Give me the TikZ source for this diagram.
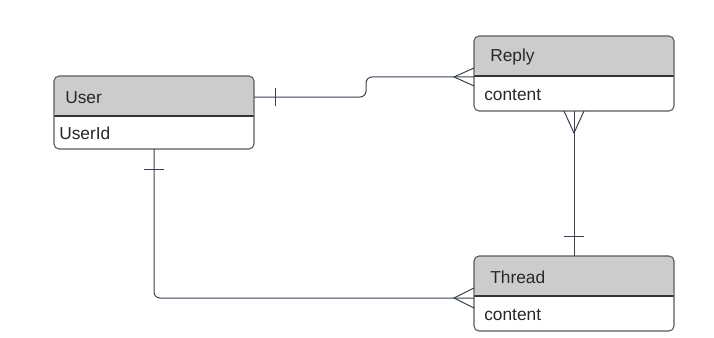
\documentclass[tikz,border=0pt]{standalone}
\usepackage{fontspec}
\setmainfont{Liberation Sans}
\usetikzlibrary{positioning,calc}
\definecolor{boxline}{RGB}{90,90,90}
\definecolor{hdrfill}{RGB}{204,204,204}
\definecolor{conn}{RGB}{58,65,78}
\definecolor{txt}{RGB}{40,40,40}

\tikzset{
  entity/.style={draw=boxline,line width=0.8pt,fill=white,rounded corners=3.75pt,
    minimum width=150pt,minimum height=#1,inner sep=0pt,outer sep=0pt,
    path picture={
      \fill[hdrfill] (path picture bounding box.north west) rectangle
        ($(path picture bounding box.north east)+(0,-30pt)$);
      \draw[black!80,line width=0.8pt] ($(path picture bounding box.north west)+(0,-30pt)$) --
        ($(path picture bounding box.north east)+(0,-30pt)$);}},
  title/.style={anchor=west,font=\fontsize{13}{15}\selectfont,text=txt,inner sep=0pt},
  attr/.style={anchor=west,font=\fontsize{13}{15}\selectfont,text=txt,inner sep=0pt},
  rel/.style={conn,line width=0.75pt,rounded corners=4.5pt},
  endmark/.style={conn,line width=0.75pt}
}

\begin{document}
\begin{tikzpicture}[x=0.75pt,y=-0.75pt]
\useasboundingbox (0,0) rectangle (714,337);

% entities
\node[entity=54.75pt] (user) at (154,112.5) {};
\node[entity=56.25pt] (reply) at (574,73.5) {};
\node[entity=56.25pt] (thread) at (574,293.5) {};

% labels
\node[title] (usert) at ([xshift=8.25pt,yshift=-16pt]user.north west) {User};
\node[attr] (usera) at ([xshift=3.75pt,yshift=-42.8pt]user.north west) {UserId};
\node[title] (replyt) at ([xshift=12pt,yshift=-16pt]reply.north west) {Reply};
\node[attr] (replya) at ([xshift=7.5pt,yshift=-44pt]reply.north west) {content};
\node[title] (threadt) at ([xshift=12pt,yshift=-16pt]thread.north west) {Thread};
\node[attr] (threada) at ([xshift=7.5pt,yshift=-44pt]thread.north west) {content};

% end points
\coordinate (u1) at ([yshift=-15.75pt]user.north east);
\coordinate (r1) at ([yshift=-2.6pt]reply.west);
\coordinate (u2) at (user.south);
\coordinate (t1) at ([yshift=-3.4pt]thread.west);

% User -- Reply
\draw[rel] (u1) -- (366,97) |- (r1);
\draw[endmark] ([xshift=15.75pt,yshift=6.75pt]u1) -- ([xshift=15.75pt,yshift=-6.75pt]u1);
\draw[endmark] ([yshift=6.75pt]r1) -- ([xshift=-15pt]r1) -- ([yshift=-6.75pt]r1);

% Reply -- Thread
\draw[rel] (reply.south) -- (thread.north);
\draw[endmark] ([xshift=-7.5pt]reply.south) -- ([yshift=-16.5pt]reply.south) -- ([xshift=7.5pt]reply.south);
\draw[endmark] ([xshift=-7.5pt,yshift=15pt]thread.north) -- ([xshift=7.5pt,yshift=15pt]thread.north);

% User -- Thread
\draw[rel] (u2) |- (t1);
\draw[endmark] ([xshift=-7.5pt,yshift=-15pt]u2) -- ([xshift=7.5pt,yshift=-15pt]u2);
\draw[endmark] ([yshift=7.5pt]t1) -- ([xshift=-15pt]t1) -- ([yshift=-7.5pt]t1);

\end{tikzpicture}
\end{document}
